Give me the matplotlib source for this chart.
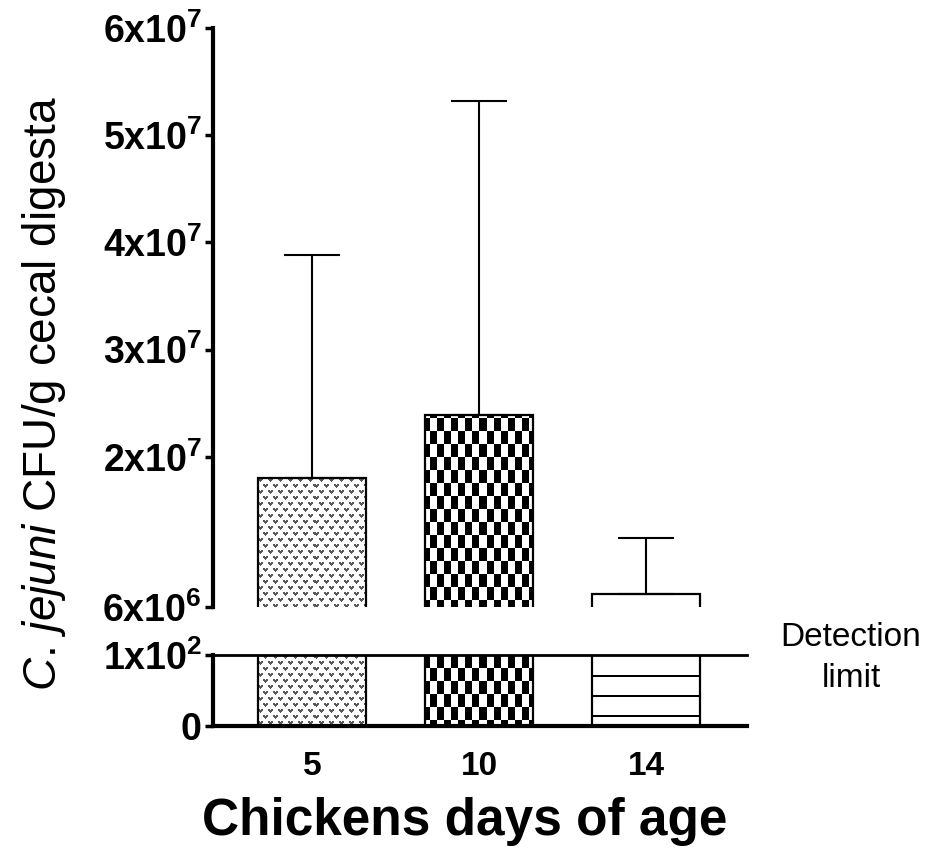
import numpy as np
import matplotlib
matplotlib.use("Agg")
import matplotlib.pyplot as plt

plt.rcParams['font.family'] = 'Liberation Sans'
plt.rcParams['mathtext.fontset'] = 'custom'
plt.rcParams['mathtext.rm'] = 'Liberation Sans'
plt.rcParams['mathtext.it'] = 'Liberation Sans:italic'
plt.rcParams['mathtext.bf'] = 'Liberation Sans:bold'

# data
days = ['5', '10', '14']
cfu_mean = [1.80e7, 2.39e7, 7.2e6]
cfu_sd = [2.08e7, 2.93e7, 5.2e6]
detection_limit = 100

upper_ticks = [6e6, 2e7, 3e7, 4e7, 5e7, 6e7]
upper_labels = [r'$\mathbf{6x10^{6}}$', r'$\mathbf{2x10^{7}}$', r'$\mathbf{3x10^{7}}$',
                r'$\mathbf{4x10^{7}}$', r'$\mathbf{5x10^{7}}$', r'$\mathbf{6x10^{7}}$']
lower_ticks = [0, 100]
lower_labels = [r'$\mathbf{0}$', r'$\mathbf{1x10^{2}}$']

upper_fill = ['dots', 'checker', None]
lower_fill = ['dots', 'checker', 'stripes']

V_SHAPE = np.array([[1, 1, 0, 1, 1],
                    [1, 1, 1, 1, 1],
                    [0, 1, 1, 1, 0],
                    [0, 0, 1, 0, 0]])


def make_pattern(kind, h, w):
    yy, xx = np.mgrid[0:h, 0:w]
    img = np.ones((h, w, 3))
    if kind == 'dots':
        tile = np.zeros((12, 10))
        tile[0:4, 0:5] = V_SHAPE
        tile[6:10, 5:10] = V_SHAPE
        mask = np.tile(tile, (h // 12 + 1, w // 10 + 1))[:h, :w] > 0
        img[mask] = 0.35
    elif kind == 'checker':
        mask = (xx // 7 + yy // 13) % 2 == 0
        img[mask] = 0.0
    elif kind == 'stripes':
        mask = (yy % 20 < 2) & (yy > 5)
        img[mask] = 0.0
    return img


def draw_bars(ax, fills):
    x = np.arange(len(days))
    bars = ax.bar(x, cfu_mean, width=0.647, color='white', edgecolor='none', zorder=1)
    xl, yl = ax.get_xlim(), ax.get_ylim()
    bb = ax.get_position()
    w = int(round(bb.width * fig.get_figwidth() * fig.dpi))
    h = int(round(bb.height * fig.get_figheight() * fig.dpi))
    for patch, kind in zip(bars, fills):
        if kind is None:
            continue
        im = ax.imshow(make_pattern(kind, h, w), extent=(xl[0], xl[1], yl[0], yl[1]),
                       aspect='auto', interpolation='nearest', zorder=2)
        im.set_clip_path(patch)
    ax.bar(x, cfu_mean, width=0.647, fill=False, edgecolor='black', linewidth=1.6, zorder=3)
    ax.set_xlim(xl)
    ax.set_ylim(yl)


fig = plt.figure(figsize=(9.32, 8.52), dpi=100)
ax_top = fig.add_axes([0.2285, 0.2876, 0.5730, 0.6796])
ax_bot = fig.add_axes([0.2285, 0.1479, 0.5730, 0.0833])

xlim = (-0.593, 2.605)
for ax in (ax_top, ax_bot):
    ax.set_xlim(xlim)
    ax.spines['top'].set_visible(False)
    ax.spines['right'].set_visible(False)
    ax.spines['left'].set_linewidth(3)
    ax.spines['bottom'].set_linewidth(3)
    ax.tick_params(axis='y', direction='out', length=6, width=2.5, pad=2, labelsize=27)

ax_top.set_ylim(6e6, 6e7)
ax_top.spines['bottom'].set_visible(False)
ax_top.set_xticks([])
ax_top.set_yticks(upper_ticks)
ax_top.set_yticklabels(upper_labels)
draw_bars(ax_top, upper_fill)
ax_top.errorbar(np.arange(len(days)), cfu_mean, yerr=[np.zeros(len(days)), cfu_sd],
                fmt='none', ecolor='black', elinewidth=1.5, capsize=20, capthick=1.5, zorder=4)

ax_bot.set_ylim(0, detection_limit)
ax_bot.set_yticks(lower_ticks)
ax_bot.set_yticklabels(lower_labels)
draw_bars(ax_bot, lower_fill)
ax_bot.axhline(detection_limit, color='black', linewidth=2, clip_on=False, zorder=5)
ax_bot.set_xticks(np.arange(len(days)))
ax_bot.set_xticklabels(days, fontsize=24, fontweight='bold')
ax_bot.tick_params(axis='x', length=0, pad=18)

fig.text(44 / 932, 1 - 394 / 852, r'$\mathit{C.\,jejuni}$ CFU/g cecal digesta',
         rotation=90, ha='center', va='center', fontsize=33)
fig.text(465 / 932, 1 - 822 / 852, 'Chickens days of age',
         ha='center', va='center', fontsize=37, fontweight='bold')
fig.text(851 / 932, 1 - 658 / 852, 'Detection\nlimit',
         ha='center', va='center', fontsize=24, linespacing=1.4)

fig.savefig('out.png', dpi=100)
